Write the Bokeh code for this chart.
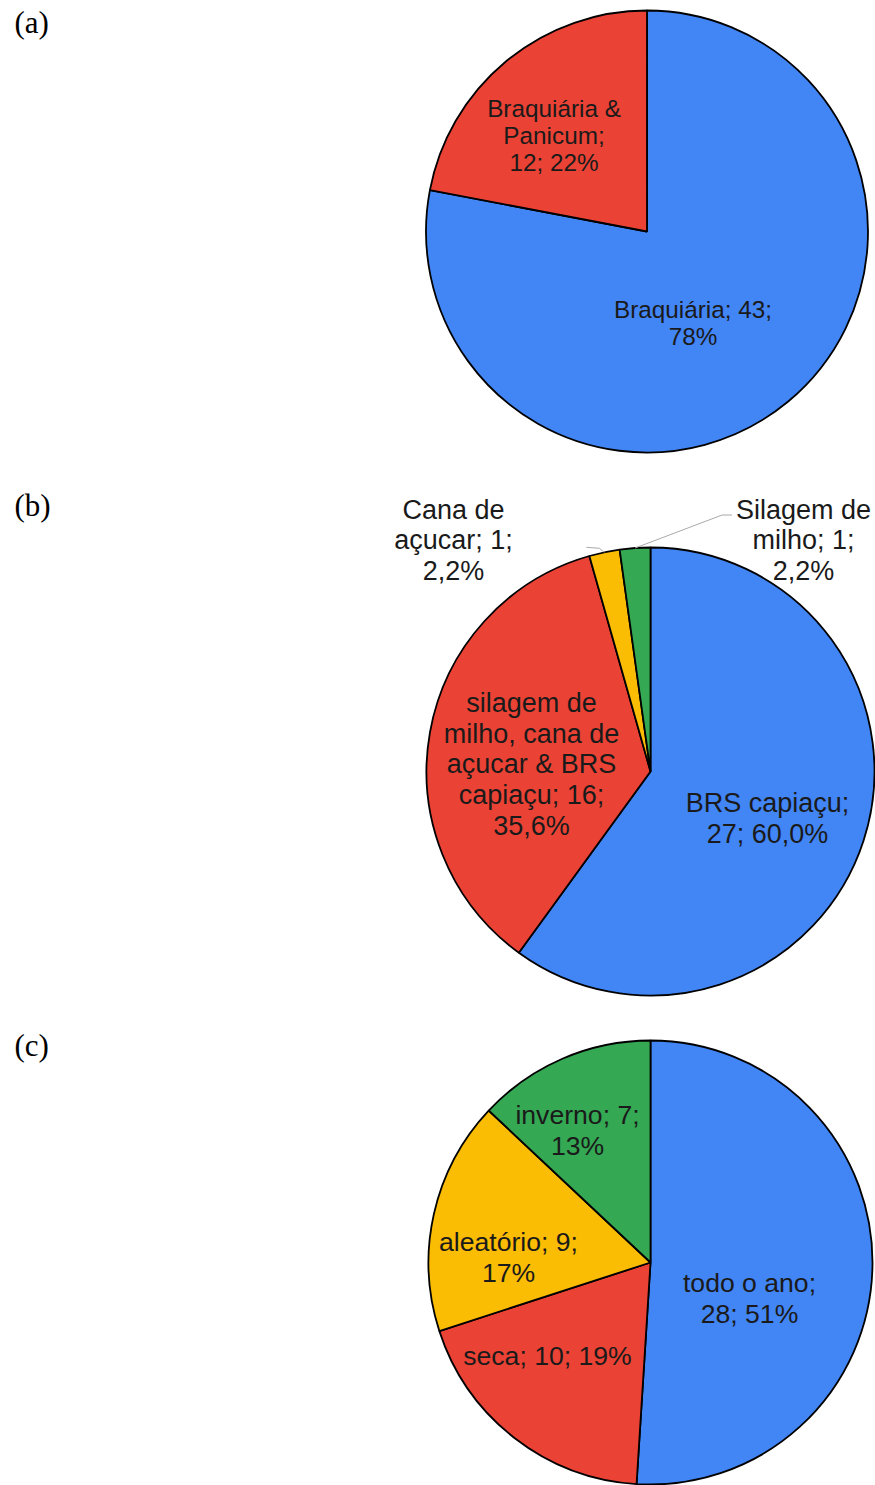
import math
from bokeh.plotting import figure
from bokeh.models import Range1d
from bokeh.core.properties import value
from bokeh.embed import file_html
from bokeh.resources import INLINE

# ---------------- data ----------------
a_names = ["Braquiária", "Braquiária & Panicum"]
a_counts = [43, 12]
a_pcts = [78, 22]
a_labels = ["Braquiária; 43;\n78%", "Braquiária &\nPanicum;\n12; 22%"]

b_names = ["BRS capiaçu", "silagem de milho, cana de açucar & BRS capiaçu",
           "Cana de açucar", "Silagem de milho"]
b_counts = [27, 16, 1, 1]
b_pcts = [60.0, 35.6, 2.2, 2.2]
b_labels = ["BRS capiaçu;\n27; 60,0%",
            "silagem de\nmilho, cana de\naçucar & BRS\ncapiaçu; 16;\n35,6%",
            "Cana de\naçucar; 1;\n2,2%",
            "Silagem de\nmilho; 1;\n2,2%"]

c_names = ["todo o ano", "seca", "aleatório", "inverno"]
c_counts = [28, 10, 9, 7]
c_pcts = [51, 19, 17, 13]
c_labels = ["todo o ano;\n28; 51%", "seca; 10; 19%", "aleatório; 9;\n17%", "inverno; 7;\n13%"]

colors = ["#4285F4", "#EA4335", "#FBBC04", "#34A853"]

# ---------------- layout (page pixel coordinates) ----------------
W, H = 875, 1485
PAGE_H = 1485


def Y(py):
    return PAGE_H - py


p = figure(width=W, height=H, x_range=Range1d(0, W), y_range=Range1d(PAGE_H - H, PAGE_H),
           output_backend="svg", toolbar_location=None, min_border=0)
p.axis.visible = False
p.grid.visible = False
p.outline_line_color = None
p.background_fill_color = "white"
p.border_fill_color = "white"

FONT = value("Liberation Sans")
TXT = "#1a1a1a"


def angles(pcts):
    tot = float(sum(pcts))
    starts, ends, mids = [], [], []
    cum = 0.0
    for v in pcts:
        s = math.pi / 2 - 2 * math.pi * cum / tot
        cum += v
        e = math.pi / 2 - 2 * math.pi * cum / tot
        starts.append(s)
        ends.append(e)
        mids.append((s + e) / 2)
    return starts, ends, mids


def pie(cx, cy, r, pcts, labels, offsets, size, lh):
    s, e, m = angles(pcts)
    n = len(pcts)
    p.wedge(x=[cx] * n, y=[Y(cy)] * n, radius=r, start_angle=s, end_angle=e,
            direction="clock", fill_color=colors[:n], line_color="black", line_width=1.8)
    p.text(x=[cx + dx for dx, dy in offsets], y=[Y(cy + dy) for dx, dy in offsets], text=labels,
           text_align="center", text_baseline="middle", text_font=FONT,
           text_font_size=size, text_color=TXT, text_line_height=lh)
    return m


# (a)
pie(646.5, 231, 221, a_pcts, a_labels, [(46, 91), (-93, -96)], "24.3px", 1.0)

# (b)
cxb, cyb, rb = 650, 771, 224
mb = pie(cxb, cyb, rb, b_pcts, b_labels[:2], [(117, 47), (-119, -7)], "27px", 1.03)
p.text(x=[cxb - 197, cxb + 153], y=[Y(cyb - 231)] * 2, text=b_labels[2:],
       text_align="center", text_baseline="middle", text_font=FONT,
       text_font_size="27px", text_color=TXT, text_line_height=1.03)
# leader lines for the two small slices
gx = cxb + rb * math.cos(mb[3])
gy = Y(cyb) + rb * math.sin(mb[3])
p.line([gx, gx + 87, gx + 97], [gy, gy + 33, gy + 33], line_color="#aaaaaa", line_width=1)
yx = cxb + rb * math.cos(mb[2])
yy = Y(cyb) + rb * math.sin(mb[2])
p.line([yx, yx - 5, yx - 18], [yy, yy + 4, yy + 5], line_color="#aaaaaa", line_width=1)

# (c)
pie(650, 1262, 222, c_pcts, c_labels, [(99, 36), (-103, 93), (-142, -5), (-73, -132)], "26.6px", 1.01)

# panel letters
p.text(x=[14, 14, 14], y=[Y(22), Y(505), Y(1045)], text=["(a)", "(b)", "(c)"],
       text_align="left", text_baseline="middle", text_font=value("Liberation Serif"),
       text_font_size="31px", text_color="black")

open("out.html", "w").write(file_html(p, INLINE))
